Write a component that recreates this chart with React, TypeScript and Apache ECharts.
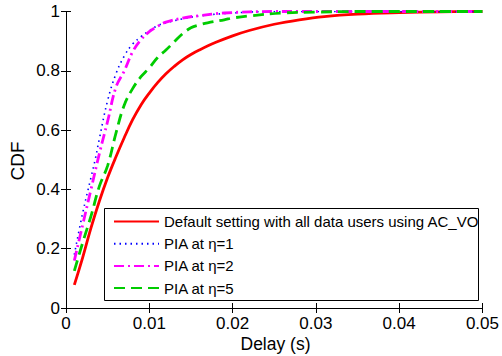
import React, { useEffect, useRef } from "react";
import * as echarts from "echarts";

const xTicks = [0, 0.01, 0.02, 0.03, 0.04, 0.05];
const yTicks = [0, 0.2, 0.4, 0.6, 0.8, 1];

const seriesNames = [
  "Default setting with all data users using AC_VO",
  "PIA at \u03b7=1",
  "PIA at \u03b7=2",
  "PIA at \u03b7=5",
];

const defaultX = [0.001, 0.002, 0.003, 0.004, 0.005, 0.006, 0.007, 0.008, 0.009, 0.01, 0.011, 0.012, 0.013, 0.014, 0.015, 0.016, 0.018, 0.02, 0.022, 0.025, 0.028, 0.031, 0.035, 0.04, 0.045, 0.05];
const defaultY = [0.078, 0.17, 0.27, 0.36, 0.44, 0.51, 0.575, 0.635, 0.685, 0.725, 0.76, 0.79, 0.815, 0.837, 0.855, 0.87, 0.896, 0.918, 0.936, 0.957, 0.972, 0.983, 0.991, 0.996, 0.999, 1.0];

const eta1X = [0.001, 0.002, 0.003, 0.0035, 0.004, 0.005, 0.006, 0.007, 0.008, 0.009, 0.01, 0.011, 0.012, 0.014, 0.016, 0.019, 0.025, 0.05];
const eta1Y = [0.18, 0.32, 0.44, 0.5, 0.57, 0.7, 0.79, 0.85, 0.89, 0.915, 0.935, 0.952, 0.962, 0.975, 0.985, 0.993, 1.0, 1.0];

const eta2X = [0.001, 0.002, 0.003, 0.004, 0.005, 0.006, 0.007, 0.008, 0.009, 0.01, 0.011, 0.012, 0.014, 0.016, 0.019, 0.025, 0.05];
const eta2Y = [0.16, 0.28, 0.4, 0.52, 0.63, 0.745, 0.8, 0.864, 0.905, 0.932, 0.95, 0.964, 0.978, 0.986, 0.995, 1.0, 1.0];

const eta5X = [0.001, 0.002, 0.003, 0.004, 0.005, 0.006, 0.007, 0.008, 0.009, 0.01, 0.011, 0.012, 0.013, 0.014, 0.015, 0.016, 0.017, 0.019, 0.02, 0.022, 0.026, 0.03, 0.035, 0.05];
const eta5Y = [0.125, 0.22, 0.31, 0.41, 0.48, 0.59, 0.685, 0.74, 0.78, 0.81, 0.845, 0.87, 0.898, 0.925, 0.945, 0.955, 0.962, 0.972, 0.978, 0.985, 0.995, 0.998, 1.0, 1.0];

const zip = (xs: number[], ys: number[]) => xs.map((x, i) => [x, ys[i]]);

const FONT = "'Liberation Sans', Arial, Helvetica, sans-serif";

export default function App() {
  const ref = useRef<HTMLDivElement>(null);
  useEffect(() => {
    if (!ref.current) return;
    const chart = echarts.init(ref.current, null, { renderer: "svg" });
    const axisCommon = {
      axisLine: { show: true, lineStyle: { color: "#000", width: 1 } },
      axisTick: { show: true, inside: true, length: 5, lineStyle: { color: "#000" } },
      splitLine: { show: false },
    };
    const lineSeries = (name: string, xs: number[], ys: number[], color: string, width: number, type: any) => ({
      name,
      type: "line",
      data: zip(xs, ys),
      symbol: "none",
      showSymbol: false,
      smooth: 0.4,
      lineStyle: { color, width, type },
      itemStyle: { color },
    });
    chart.setOption({
      animation: false,
      backgroundColor: "#fff",
      grid: { left: 66, right: 17, top: 11.5, bottom: 48, containLabel: false },
      xAxis: [
        {
          type: "value",
          min: 0,
          max: 0.05,
          interval: 0.01,
          position: "bottom",
          ...axisCommon,
          axisLabel: {
            color: "#000",
            fontSize: 17,
            fontFamily: FONT,
            margin: 7,
            formatter: (v: number) => String(Number(v.toFixed(2))),
          },
        },
        {
          type: "value",
          min: 0,
          max: 0.05,
          interval: 0.01,
          position: "top",
          ...axisCommon,
          axisLabel: { show: false },
        },
      ],
      yAxis: [
        {
          type: "value",
          min: 0,
          max: 1,
          interval: 0.2,
          position: "left",
          ...axisCommon,
          axisLabel: {
            color: "#000",
            fontSize: 17,
            fontFamily: FONT,
            margin: 6,
            formatter: (v: number) => String(Number(v.toFixed(1))),
          },
        },
        {
          type: "value",
          min: 0,
          max: 1,
          interval: 0.2,
          position: "right",
          ...axisCommon,
          axisLabel: { show: false },
        },
      ],
      legend: {
        orient: "vertical",
        left: 113,
        top: 214,
        padding: 0,
        itemWidth: 45,
        itemHeight: 14,
        itemGap: 7.2,
        itemStyle: { opacity: 0 },
        textStyle: { fontSize: 15, fontFamily: FONT, color: "#000", lineHeight: 15 },
        data: seriesNames,
      },
      graphic: [
        {
          type: "rect",
          z: 3,
          shape: { x: 104.5, y: 208.5, width: 374, height: 92 },
          style: { fill: "#fff", stroke: "#000", lineWidth: 1 },
        },
        {
          type: "text",
          x: 17.5,
          y: 161,
          rotation: Math.PI / 2,
          style: {
            text: "CDF",
            font: `19px ${FONT}`,
            fill: "#000",
            textAlign: "center",
            textVerticalAlign: "middle",
          },
        },
        {
          type: "text",
          x: 275.5,
          y: 344,
          style: {
            text: "Delay (s)",
            font: `17.5px ${FONT}`,
            fill: "#000",
            textAlign: "center",
            textVerticalAlign: "middle",
          },
        },
      ],
      series: [
        lineSeries(seriesNames[0], defaultX, defaultY, "#ff0000", 2.8, "solid"),
        lineSeries(seriesNames[1], eta1X, eta1Y, "#0000ff", 1.6, [1.5, 4]),
        lineSeries(seriesNames[2], eta2X, eta2Y, "#ff00ff", 2.8, [10, 4, 2, 4]),
        lineSeries(seriesNames[3], eta5X, eta5Y, "#00cc00", 2.8, [11, 6]),
      ],
    });
    return () => chart.dispose();
  }, []);
  return (
    <div
      ref={ref}
      style={{ position: "absolute", left: 0, top: 0, width: 502, height: 356 }}
    />
  );
}
